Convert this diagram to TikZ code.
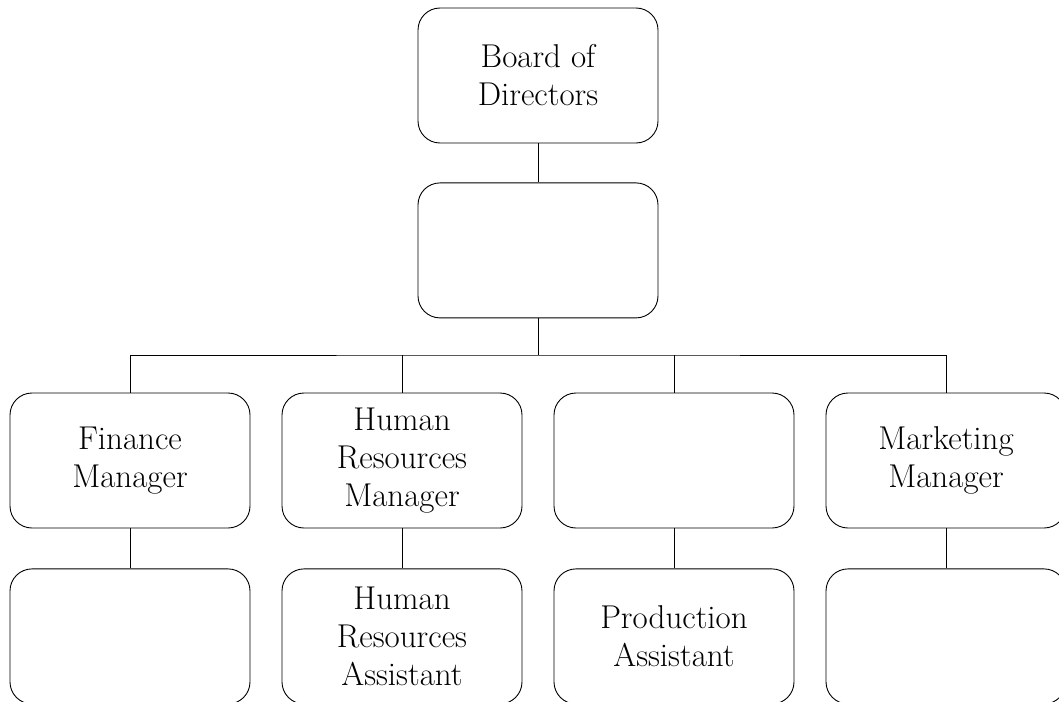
\documentclass[tikz,border=0pt]{standalone}
\usepackage{tikz}
\usetikzlibrary{positioning}
\tikzstyle{orgbox} = [draw=black, fill=white, line width=0.9pt,
    rectangle, rounded corners=22pt, minimum width=240pt, minimum height=135pt,
    align=center, font=\fontsize{33}{38}\selectfont]
\tikzstyle{orgline} = [draw=black, line width=0.9pt]

\begin{document}
\begin{tikzpicture}[x=1pt,y=-1pt]
                \useasboundingbox (0,0) rectangle (1059,701);
                \node [orgbox] (board) at (538,75.5) {Board of\\Directors};
                \node [orgbox, below=39pt of board] (chief) {};
                % managers
                \node [orgbox] (finance) at (130,460.5) {Finance\\Manager};
                \node [orgbox] (hrman) at (402,460.5) {Human\\Resources\\Manager};
                \node [orgbox] (prodman) at (674,460.5) {};
                \node [orgbox] (market) at (946,460.5) {Marketing\\Manager};
                % assistants
                \node [orgbox, below=40pt of finance] (finassist) {};
                \node [orgbox, below=40pt of hrman] (hrassist) {Human\\Resources\\Assistant};
                \node [orgbox, below=40pt of prodman] (prodassist) {Production\\Assistant};
                \node [orgbox, below=40pt of market] (mkassist) {};
                \coordinate (bus) at (538,355);
                \draw [orgline] (board) -- (chief);
                \draw [orgline] (chief) -- (bus);
                \draw [orgline] (finance.north) |- (bus) -| (market.north);
                \draw [orgline] (hrman.north) -- (hrman.north |- bus);
                \draw [orgline] (prodman.north) -- (prodman.north |- bus);
                \draw [orgline] (finance) -- (finassist);
                \draw [orgline] (hrman) -- (hrassist);
                \draw [orgline] (prodman) -- (prodassist);
                \draw [orgline] (market) -- (mkassist);
            \end{tikzpicture}
\end{document}
